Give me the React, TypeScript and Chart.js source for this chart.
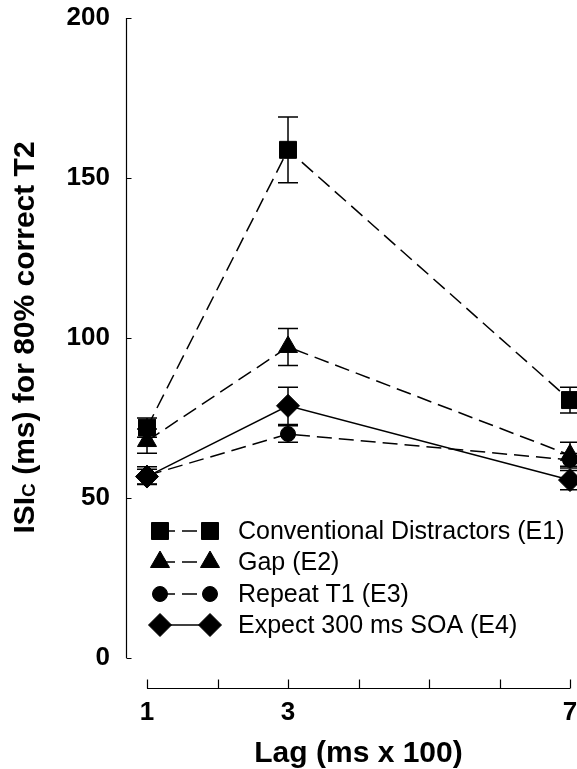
import React, { useEffect, useRef } from "react";
import { Chart, registerables } from "chart.js";
import { drawPoint } from "chart.js/helpers";

Chart.register(...registerables);

// ---- data ----
const lags = [1, 3, 7];
const seriesNames = [
  "Conventional Distractors (E1)",
  "Gap (E2)",
  "Repeat T1 (E3)",
  "Expect 300 ms SOA (E4)",
];
const conventional = [72, 158.8, 80.6];
const conventionalErr = [3, 10.3, 4];
const gap = [67.8, 97.2, 63.4];
const gapErr = [3.8, 5.8, 4];
const repeatT1 = [57, 70, 61.9];
const repeatT1Err = [2.8, 2.6, 2];
const expect300 = [56.7, 78.8, 55.6];
const expect300Err = [2.3, 5.8, 3];
const yTicks = [0, 50, 100, 150, 200];
const xTicks = [1, 2, 3, 4, 5, 6, 7];
const xLabels = [1, 3, 7];
const xTitle = "Lag (ms x 100)";
const yTitleParts = ["ISI", "C", " (ms) for 80% correct T2"];

const FONT = "Arial, 'Liberation Sans', Helvetica, sans-serif";
const X_MIN = 0.702;
const X_MAX = 7;
const Y_MIN = -9.69;
const Y_MAX = 200;

const styles = [
  { pointStyle: "rect", radius: 12, dash: [15, 7] },
  { pointStyle: "triangle", radius: 11, dash: [15, 7] },
  { pointStyle: "circle", radius: 7.5, dash: [15, 7] },
  { pointStyle: "rectRot", radius: 11.5, dash: [] as number[] },
];

const seriesValues = [conventional, gap, repeatT1, expect300];
const seriesErrors = [conventionalErr, gapErr, repeatT1Err, expect300Err];

const customPlugin = {
  id: "customDraw",
  beforeDatasetsDraw(chart: any) {
    const { ctx, scales } = chart;
    const x = scales.x;
    const y = scales.y;
    ctx.save();
    ctx.strokeStyle = "#000";
    ctx.lineWidth = 1.5;
    ctx.setLineDash([]);
    seriesValues.forEach((vals, i) => {
      vals.forEach((v, j) => {
        const e = seriesErrors[i][j];
        const px = x.getPixelForValue(lags[j]);
        const t = y.getPixelForValue(v + e);
        const b = y.getPixelForValue(v - e);
        ctx.beginPath();
        ctx.moveTo(px, t);
        ctx.lineTo(px, b);
        ctx.moveTo(px - 10, t);
        ctx.lineTo(px + 10, t);
        ctx.moveTo(px - 10, b);
        ctx.lineTo(px + 10, b);
        ctx.stroke();
      });
    });
    ctx.restore();
  },
  afterDraw(chart: any) {
    const { ctx, scales, chartArea } = chart;
    const x = scales.x;
    const y = scales.y;
    ctx.save();
    ctx.strokeStyle = "#000";
    ctx.lineWidth = 1.2;
    ctx.setLineDash([]);
    // y axis
    const ax = Math.round(chartArea.left) + 0.5;
    ctx.beginPath();
    ctx.moveTo(ax, y.getPixelForValue(Y_MAX));
    ctx.lineTo(ax, y.getPixelForValue(0));
    yTicks.forEach((v) => {
      const py = Math.round(y.getPixelForValue(v)) + 0.5;
      ctx.moveTo(ax, py);
      ctx.lineTo(ax + 5, py);
    });
    ctx.stroke();
    // x axis
    const ay = Math.round(chartArea.bottom) - 0.5;
    ctx.beginPath();
    ctx.moveTo(x.getPixelForValue(xTicks[0]), ay);
    ctx.lineTo(x.getPixelForValue(xTicks[xTicks.length - 1]), ay);
    xTicks.forEach((v) => {
      const px = Math.round(x.getPixelForValue(v)) + 0.5;
      ctx.moveTo(px, ay);
      ctx.lineTo(px, ay - 9);
    });
    ctx.stroke();

    // legend
    const rows = [531, 562, 594, 625];
    const mx1 = 160;
    const mx2 = 210;
    const tx = 238;
    ctx.fillStyle = "#000";
    seriesNames.forEach((name, i) => {
      const ry = rows[i];
      ctx.lineWidth = 1.5;
      ctx.setLineDash(styles[i].dash);
      ctx.lineDashOffset = 0;
      ctx.beginPath();
      ctx.moveTo(mx1, ry);
      ctx.lineTo(mx2, ry);
      ctx.stroke();
      ctx.setLineDash([]);
      ctx.lineWidth = 1;
      [mx1, mx2].forEach((mx) => {
        drawPoint(
          ctx,
          { pointStyle: styles[i].pointStyle, radius: styles[i].radius, rotation: 0, borderWidth: 1 } as any,
          mx,
          ry
        );
      });
      ctx.font = `25px ${FONT}`;
      ctx.textAlign = "left";
      ctx.textBaseline = "middle";
      ctx.fillText(name, tx, ry + 1);
    });

    // x title
    ctx.font = `bold 30px ${FONT}`;
    ctx.textAlign = "center";
    ctx.textBaseline = "alphabetic";
    ctx.fillText(xTitle, (x.getPixelForValue(1) + x.getPixelForValue(7)) / 2, 762);

    // y title (rotated, with subscript C)
    ctx.save();
    ctx.translate(23, 337.5);
    ctx.rotate(-Math.PI / 2);
    ctx.textAlign = "left";
    ctx.textBaseline = "alphabetic";
    const bigFont = `bold 30px ${FONT}`;
    const smallFont = `bold 19px ${FONT}`;
    ctx.font = bigFont;
    const w1 = ctx.measureText(yTitleParts[0]).width;
    const w3 = ctx.measureText(yTitleParts[2]).width;
    ctx.font = smallFont;
    const w2 = ctx.measureText(yTitleParts[1]).width;
    let cx = -(w1 + w2 + w3) / 2;
    ctx.font = bigFont;
    ctx.fillText(yTitleParts[0], cx, 10.5);
    cx += w1;
    ctx.font = smallFont;
    ctx.fillText(yTitleParts[1], cx, 11.5);
    cx += w2;
    ctx.font = bigFont;
    ctx.fillText(yTitleParts[2], cx, 10.5);
    ctx.restore();

    ctx.restore();
  },
};

export default function App() {
  const canvasRef = useRef<HTMLCanvasElement | null>(null);

  useEffect(() => {
    const canvas = canvasRef.current;
    if (!canvas) return;
    const datasets = seriesNames.map((name, i) => ({
      label: name,
      data: lags.map((l, j) => ({ x: l, y: seriesValues[i][j] })),
      borderColor: "#000",
      backgroundColor: "#000",
      borderWidth: 1.5,
      borderDash: styles[i].dash,
      pointStyle: styles[i].pointStyle,
      pointRadius: styles[i].radius,
      pointBackgroundColor: "#000",
      pointBorderColor: "#000",
      pointBorderWidth: 1,
      tension: 0,
      fill: false,
      clip: false,
    }));
    const chart = new Chart(canvas, {
      type: "line",
      data: { datasets } as any,
      plugins: [customPlugin as any],
      options: {
        animation: false,
        responsive: false,
        devicePixelRatio: 1,
        layout: { autoPadding: false, padding: { top: 18, right: 7, left: 0, bottom: 0 } },
        plugins: {
          legend: { display: false },
          tooltip: { enabled: false },
        },
        scales: {
          x: {
            type: "linear",
            min: X_MIN,
            max: X_MAX,
            afterBuildTicks: (s: any) => {
              s.ticks = xTicks.map((v) => ({ value: v }));
            },
            afterFit: (s: any) => {
              s.height = 80;
              s.paddingLeft = 0;
              s.paddingRight = 0;
            },
            grid: { display: false, drawTicks: false },
            border: { display: false },
            ticks: {
              autoSkip: false,
              maxRotation: 0,
              padding: 8,
              color: "#000",
              font: { family: FONT, size: 26, weight: "bold" },
              callback: (v: any) => (xLabels.includes(Number(v)) ? String(v) : ""),
            },
          },
          y: {
            type: "linear",
            min: Y_MIN,
            max: Y_MAX,
            afterBuildTicks: (s: any) => {
              s.ticks = yTicks.map((v) => ({ value: v }));
            },
            afterFit: (s: any) => {
              s.width = 126;
              s.paddingTop = 0;
              s.paddingBottom = 0;
            },
            grid: { display: false, drawTicks: false },
            border: { display: false },
            ticks: {
              padding: 16,
              color: "#000",
              font: { family: FONT, size: 26, weight: "bold" },
              callback: (v: any) => String(v),
            },
          },
        },
      } as any,
    });
    return () => chart.destroy();
  }, []);

  return (
    <div style={{ position: "absolute", left: 0, top: 0, width: 577, height: 769, background: "#fff" }}>
      <canvas ref={canvasRef} width={577} height={769} />
    </div>
  );
}
